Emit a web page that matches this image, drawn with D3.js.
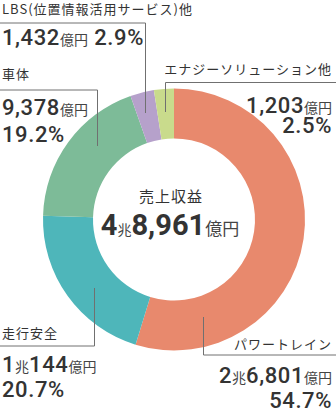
<!DOCTYPE html>
<html><head><meta charset="utf-8">
<script src="https://cdn.jsdelivr.net/npm/d3@7"></script>
<style>
html,body{margin:0;padding:0;background:#fff;}
svg{display:block;}
text{font-family:"Noto Sans CJK JP","Noto Sans",sans-serif;fill:#333;}
</style></head>
<body>
<svg id="c" width="336" height="410"></svg>
<script>
const categories = ["パワートレイン","走行安全","車体","LBS(位置情報活用サービス)他","エナジーソリューション他"];
const values = [26801, 10144, 9378, 1432, 1203];
const amountLabels = ["2兆6,801億円","1兆144億円","9,378億円","1,432億円","1,203億円"];
const percentLabels = ["54.7%","20.7%","19.2%","2.9%","2.5%"];
const colors = ["#E8896D","#4EB6BA","#7DBB98","#B6A1CB","#C9DB8C"];
const totalTitle = "売上収益";
const totalLabel = "4兆8,961億円";

// layout for labels/leaders (positions only)
const layout = [
  {leader:[[203.5,317],[203.5,355],[336,355]], anchor:"end", x:332, name:349, amt:383, pct:407.5},
  {leader:[[94.5,288],[94.5,346],[0,346]], anchor:"start", x:2, name:338, amt:371.5, pct:396.5},
  {leader:[[97.5,146],[97.5,90],[0,90]], anchor:"start", x:2, name:79, amt:115, pct:141.5},
  {leader:[[145.5,113],[145.5,23],[0,23]], anchor:"start", x:2, name:14, amt:45, pct:null, inline:true},
  {leader:[[165.5,112],[165.5,82.5],[336,82.5]], anchor:"end", x:332, name:74, amt:113, pct:133}
];

const svg = d3.select("#c");
const cx = 174, cy = 219.5, rO = 131, rI = 81;
const pie = d3.pie().sort(null).value(d => d)(values);
const arc = d3.arc().innerRadius(rI).outerRadius(rO);
const g = svg.append("g").attr("transform", `translate(${cx},${cy})`);
g.selectAll("path").data(pie).join("path").attr("d", arc).attr("fill", (d,i) => colors[i]);

const line = d3.line();
svg.selectAll("path.leader").data(layout).join("path").attr("class","leader")
  .attr("d", d => line(d.leader)).attr("fill","none").attr("stroke","#707070").attr("stroke-width",1);

function rich(sel, str, big, small) {
  const parts = str.match(/[0-9,.%]+|[^0-9,.%]+/g);
  parts.forEach(p => {
    const isNum = /^[0-9,.%]+$/.test(p);
    const t = sel.append("tspan").text(p);
    if (isNum) t.attr("font-family","Roboto, sans-serif").attr("font-weight",500).attr("font-size",big).attr("letter-spacing","0.6px");
    else t.attr("font-size",small).attr("font-weight",400).attr("fill","#444");
  });
}

layout.forEach((L,i) => {
  svg.append("text").attr("x",L.x).attr("y",L.name).attr("text-anchor",L.anchor)
    .attr("font-size",13).attr("letter-spacing","1px").text(categories[i]);
  const a = svg.append("text").attr("x",L.x).attr("y",L.amt).attr("text-anchor",L.anchor);
  rich(a, amountLabels[i], 22, 14);
  if (L.inline) {
    a.append("tspan").attr("font-size",14).text("\u00a0\u00a0");
    rich(a, percentLabels[i], 22, 14);
  } else {
    const p = svg.append("text").attr("x",L.x).attr("y",L.pct).attr("text-anchor",L.anchor);
    rich(p, percentLabels[i], 22, 14);
  }
});

svg.append("text").attr("x",171).attr("y",202).attr("text-anchor","middle").attr("font-size",15).attr("letter-spacing","1px").text(totalTitle);
const t = svg.append("text").attr("x",170).attr("y",235).attr("text-anchor","middle");
const tp = totalLabel.match(/[0-9,.%]+|[^0-9,.%]+/g);
tp.forEach((p,k) => {
  const isNum = /^[0-9,.%]+$/.test(p);
  const s = t.append("tspan").text(p);
  if (isNum) s.attr("font-family","Roboto, sans-serif").attr("font-weight",700).attr("font-size",29);
  else s.attr("font-size", k === 1 ? 14 : 17).attr("fill","#444");
});
</script>
</body></html>
